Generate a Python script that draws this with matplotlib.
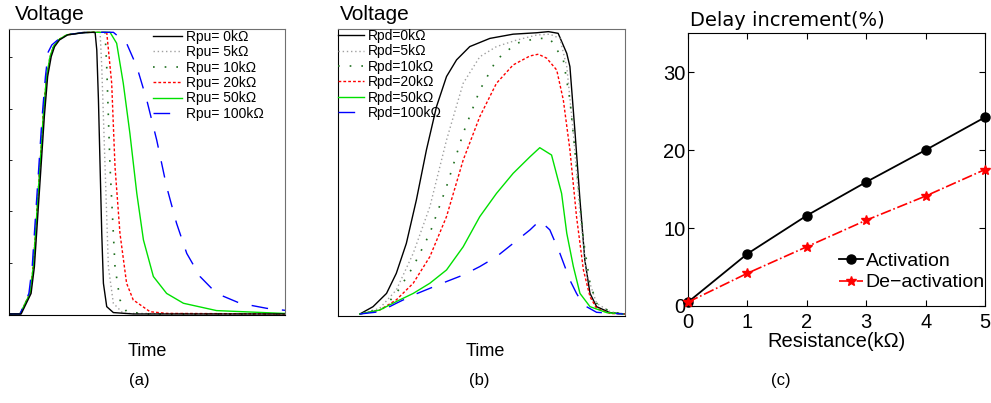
import matplotlib
matplotlib.use("Agg")
import matplotlib.pyplot as plt
import numpy as np

plt.rcParams['font.family'] = ['Liberation Sans', 'DejaVu Sans']

# ---------------- Panel (a): pull-up resistance ----------------
labels_a = ["Rpu= 0kΩ", "Rpu= 5kΩ", "Rpu= 10kΩ", "Rpu= 20kΩ", "Rpu= 50kΩ", "Rpu= 100kΩ"]

rise_t = [0, 4.0, 7.6, 8.8, 10.0, 11.2, 12.4, 13.6, 14.9, 16.1, 17.9, 20.9, 26.9, 30.6]
rise_v = [0, 0, 0.073, 0.168, 0.346, 0.523, 0.701, 0.843, 0.914, 0.949, 0.973, 0.991, 0.999, 1.0]

a0_t = [0, 4.4, 8.0, 9.2, 10.4, 11.6, 12.8, 14.0, 15.3, 16.5, 18.3, 21.3, 27.3, 30.6, 31.2, 31.8, 32.4, 33.0, 33.6, 34.2, 35.4, 37.8, 45.0, 100]
a0_v = [0, 0, 0.073, 0.168, 0.346, 0.523, 0.701, 0.843, 0.914, 0.949, 0.973, 0.991, 0.999, 1.0, 0.999, 0.937, 0.760, 0.523, 0.286, 0.109, 0.026, 0.005, 0, 0]

a5_t = rise_t + [33.0, 33.6, 34.8, 36.0, 37.8, 41.4, 100]
a5_v = rise_v + [1.0, 0.878, 0.523, 0.168, 0.038, 0.002, 0]

a10_t = rise_t + [34.8, 35.4, 36.6, 38.4, 40.2, 42.6, 50.0, 100]
a10_v = rise_v + [1.0, 0.878, 0.523, 0.168, 0.050, 0.008, 0, 0]

a20_t = rise_t + [35.4, 37.2, 38.4, 40.2, 42.6, 45.0, 51.1, 57.1, 100]
a20_v = rise_v + [1.0, 0.819, 0.523, 0.286, 0.109, 0.050, 0.008, 0.002, 0]

a50_t = rise_t + [36.6, 39.0, 41.4, 43.8, 46.3, 48.7, 52.3, 57.1, 63.2, 75.2, 99.4, 100]
a50_v = rise_v + [1.0, 0.961, 0.819, 0.641, 0.428, 0.263, 0.133, 0.073, 0.038, 0.012, 0.002, 0.002]

a100_t = [0, 4.0, 7.2, 8.4, 9.6, 10.8, 12.0, 13.2, 14.2, 15.5, 17.9, 20.9, 26.9, 30.6,
          37.8, 42.6, 46.3, 49.9, 53.5, 57.1, 60.7, 64.4, 69.2, 75.2, 83.7, 93.4, 100]
a100_v = [0, 0, 0.073, 0.168, 0.346, 0.523, 0.701, 0.843, 0.930, 0.955, 0.975, 0.991, 0.999, 1.0,
          1.0, 0.961, 0.878, 0.760, 0.618, 0.452, 0.322, 0.215, 0.133, 0.073, 0.038, 0.020, 0.013]

# ---------------- Panel (b): pull-down resistance ----------------
labels_b = ["Rpd=0kΩ", "Rpd=5kΩ", "Rpd=10kΩ", "Rpd=20kΩ", "Rpd=50kΩ", "Rpd=100kΩ"]

b0_t = [7.6, 12.2, 16.9, 20.3, 23.8, 27.3, 30.8, 34.3, 37.8, 41.3, 45.9, 52.9, 61.0, 69.2, 73.3, 76.7, 79.7, 80.8, 82.6, 84.3, 86.0, 87.8, 90.1, 94.8, 100]
b0_v = [0, 0.026, 0.073, 0.144, 0.250, 0.404, 0.581, 0.734, 0.841, 0.900, 0.947, 0.976, 0.991, 0.996, 1.0, 0.994, 0.923, 0.876, 0.640, 0.404, 0.191, 0.073, 0.026, 0.005, 0.0]

b5_t = [7.6, 14.5, 20.3, 26.2, 32.0, 37.8, 43.6, 49.4, 55.2, 62.2, 69.2, 73.8, 77.3, 79.7, 82.0, 84.3, 86.6, 90.1, 94.8, 100]
b5_v = [0, 0.020, 0.085, 0.215, 0.380, 0.616, 0.817, 0.911, 0.947, 0.970, 0.988, 0.991, 0.976, 0.876, 0.640, 0.357, 0.144, 0.038, 0.008, 0]

b10_t = [7.6, 15.7, 20.3, 26.2, 32.0, 37.8, 43.6, 49.4, 55.2, 62.2, 69.2, 73.8, 78.5, 80.8, 83.1, 85.5, 87.8, 90.1, 94.8, 100]
b10_v = [0, 0.020, 0.073, 0.168, 0.286, 0.451, 0.640, 0.793, 0.900, 0.959, 0.976, 0.976, 0.900, 0.758, 0.522, 0.262, 0.109, 0.038, 0.008, 0]

b20_t = [7.6, 14.5, 20.3, 26.2, 32.0, 37.8, 43.6, 49.4, 55.2, 61.0, 66.9, 69.8, 72.7, 76.2, 78.5, 80.8, 83.1, 85.5, 87.8, 90.1, 94.8, 100]
b20_v = [0, 0.014, 0.050, 0.109, 0.203, 0.345, 0.545, 0.699, 0.817, 0.882, 0.914, 0.920, 0.906, 0.864, 0.758, 0.581, 0.345, 0.156, 0.061, 0.020, 0.002, 0]

b50_t = [7.6, 14.5, 20.3, 26.2, 32.0, 37.8, 43.6, 49.4, 55.2, 61.0, 66.9, 70.3, 74.4, 77.9, 79.7, 82.0, 84.3, 87.8, 93.6, 99.4]
b50_v = [0, 0.014, 0.044, 0.073, 0.109, 0.156, 0.238, 0.345, 0.427, 0.498, 0.557, 0.589, 0.563, 0.427, 0.286, 0.168, 0.073, 0.026, 0.005, 0]

b100_t = [7.6, 14.5, 20.3, 26.2, 32.0, 37.8, 43.6, 49.4, 55.2, 61.0, 66.9, 70.3, 73.8, 77.3, 80.8, 83.1, 85.5, 90.1, 99.4]
b100_v = [0, 0.008, 0.038, 0.067, 0.091, 0.115, 0.138, 0.168, 0.203, 0.250, 0.298, 0.331, 0.298, 0.215, 0.120, 0.073, 0.032, 0.006, 0]

# ---------------- Panel (c): delay increment ----------------
resistance = [0, 1, 2, 3, 4, 5]
activation = [0.5, 6.7, 11.6, 15.9, 20.0, 24.2]
deactivation = [0.5, 4.2, 7.6, 11.0, 14.1, 17.5]

styles = [
    dict(color="black", lw=1.0, ls="-"),
    dict(color="#a0a0a0", lw=1.0, ls=(0, (1, 2))),
    dict(color="#207020", lw=1.2, ls=(0, (1, 6))),
    dict(color="red", lw=1.0, ls=(0, (2, 1.5))),
    dict(color="#00e000", lw=1.0, ls="-"),
    dict(color="blue", lw=1.0, ls=(0, (12, 10))),
]

fig = plt.figure(figsize=(9.91, 4.03), dpi=100)

# panel a
axa = fig.add_axes([0.0091, 0.2184, 0.2785, 0.7097])
data_a = [(a0_t, a0_v), (a5_t, a5_v), (a10_t, a10_v), (a20_t, a20_v), (a50_t, a50_v), (a100_t, a100_v)]
order_a = [1, 2, 3, 4, 5, 0]
lines_a = [None] * 6
for i in order_a:
    t, v = data_a[i]
    lines_a[i], = axa.plot(t, v, label=labels_a[i], **styles[i])
axa.set_xlim(0, 100)
axa.set_ylim(-0.0036, 1.0118)
axa.set_xticks([])
axa.set_yticks(np.linspace(0, 0.911, 6))
axa.tick_params(axis='y', direction='in', length=2, labelleft=False, width=0.6)
for s in ['top', 'right']:
    axa.spines[s].set_color('#707070')
axa.legend(handles=lines_a, loc='upper right', frameon=False, fontsize=10,
           handlelength=2.1, handletextpad=0.3, labelspacing=0.1, borderaxespad=0.0,
           borderpad=0.0, bbox_to_anchor=(0.925, 0.997))

# panel b
axb = fig.add_axes([0.3411, 0.2159, 0.2896, 0.7122])
data_b = [(b0_t, b0_v), (b5_t, b5_v), (b10_t, b10_v), (b20_t, b20_v), (b50_t, b50_v), (b100_t, b100_v)]
lines_b = []
for i, (t, v) in enumerate(data_b):
    ln, = axb.plot(t, v, label=labels_b[i], **styles[i])
    lines_b.append(ln)
axb.set_xlim(0, 100)
axb.set_ylim(-0.007, 1.0094)
axb.set_xticks([])
axb.set_yticks([])
for s in ['top', 'right']:
    axb.spines[s].set_color('#707070')
axb.legend(handles=lines_b, loc='upper left', frameon=False, fontsize=10,
           handlelength=1.9, labelspacing=0.1, borderaxespad=0.0,
           handletextpad=0.25, borderpad=0.0, bbox_to_anchor=(0.0, 1.0))

# panel c
axc = fig.add_axes([0.6943, 0.2407, 0.2997, 0.6774])
axc.plot(resistance, activation, color="black", lw=1.3, marker="o", ms=6.5,
         label="Activation", clip_on=False, zorder=3)
axc.plot(resistance, deactivation, color="red", lw=1.2, ls="-.", marker="*", ms=7,
         label="De\u2212activation", clip_on=False, zorder=3)
axc.set_xlim(0, 5)
axc.set_ylim(0, 35)
axc.set_xticks(resistance)
axc.set_yticks([0, 10, 20, 30])
axc.tick_params(direction='in', length=4, top=True, right=True, labelsize=14.5)
axc.tick_params(axis='x', pad=5)
axc.tick_params(axis='y', pad=2)
axc.set_xlabel("Resistance(kΩ)", fontsize=14.5, labelpad=0)
axc.legend(loc='lower right', frameon=False, fontsize=14,
           handlelength=1.2, handletextpad=0.15, labelspacing=0.2, borderaxespad=0.0,
           bbox_to_anchor=(1.025, 0.025))

# text
fig.text(0.015, 0.965, "Voltage", fontsize=15, va='center', ha='left')
fig.text(0.343, 0.965, "Voltage", fontsize=15, va='center', ha='left')
fig.text(0.149, 0.127, "Time", fontsize=13, va='center', ha='center')
fig.text(0.490, 0.127, "Time", fontsize=13, va='center', ha='center')
fig.text(0.696, 0.950, "Delay increment(%)", fontsize=14, va='center', ha='left', family='DejaVu Sans')
fig.text(0.141, 0.055, "(a)", fontsize=12, va='center', ha='center')
fig.text(0.484, 0.055, "(b)", fontsize=12, va='center', ha='center')
fig.text(0.788, 0.055, "(c)", fontsize=12, va='center', ha='center')

fig.savefig("out.png", dpi=100)
